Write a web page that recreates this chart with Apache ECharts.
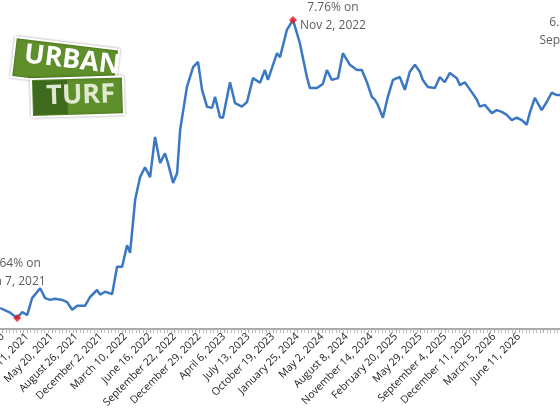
<!DOCTYPE html>
<html><head><meta charset="utf-8">
<script src="https://cdn.jsdelivr.net/npm/echarts@6/dist/echarts.min.js"></script>
<style>html,body{margin:0;padding:0;background:#fff}#c{width:560px;height:420px}</style>
</head><body><div id="c"></div>
<script>
const tickLabels = ["November 5, 2020","February 11, 2021","May 20, 2021","August 26, 2021","December 2, 2021","March 10, 2022","June 16, 2022","September 22, 2022","December 29, 2022","April 6, 2023","July 13, 2023","October 19, 2023","January 25, 2024","May 2, 2024","August 8, 2024","November 14, 2024","February 20, 2025","May 29, 2025","September 4, 2025","December 11, 2025","March 5, 2026","June 11, 2026"];
const weeks = [-15.4,-9.7,-5.7,-2.8,0,2.8,7.4,10.2,13.1,15.9,19.9,22.8,25.6,28.5,33.0,35.8,39.8,41.5,44.4,48.4,51.2,54.1,56.9,58.6,61.5,64.3,67.1,70.0,72.8,75.7,78.5,80.2,83.1,85.4,87.1,91.0,94.5,97.3,99.6,102.4,105.3,107.0,109.8,111.5,115.5,118.4,122.3,125.2,128.6,132.6,135.4,137.1,142.3,144.0,147.9,151.4,155.3,159.3,161.0,165.0,168.4,170.7,173.5,177.0,179.8,183.8,187.8,190.6,193.5,196.3,198.0,199.7,202.6,205.4,208.3,212.2,215.1,217.9,220.8,223.6,225.3,228.2,232.2,235.0,237.8,240.7,244.7,246.4,249.2,253.2,256.1,257.8,260.6,264.6,267.4,270.3,273.1,276.0,278.8,281.7,284.5,286.2,289.1,293.0,295.9,298.7,301.6,304.4];
const rates = [2.81,2.73,2.64,2.74,2.69,2.98,3.15,2.98,2.95,2.97,2.95,2.91,2.78,2.85,2.85,3.00,3.12,3.04,3.09,3.05,3.52,3.52,3.89,3.76,4.67,5.06,5.23,5.06,5.75,5.30,5.47,5.30,4.96,5.13,5.87,6.61,6.95,7.04,6.56,6.27,6.25,6.44,6.09,6.08,6.69,6.33,6.27,6.35,6.76,6.68,6.90,6.73,7.19,7.12,7.59,7.76,7.36,6.78,6.59,6.59,6.66,6.90,6.73,6.76,7.19,6.99,6.90,6.90,6.69,6.44,6.39,6.30,6.08,6.44,6.73,6.78,6.56,6.87,6.99,6.87,6.73,6.61,6.59,6.78,6.69,6.85,6.76,6.64,6.69,6.52,6.39,6.27,6.30,6.16,6.21,6.18,6.13,6.04,6.08,6.04,5.96,6.16,6.42,6.21,6.35,6.51,6.47,6.47];
const noteWeeks = [-5.7, 151.4, 312];
const noteRates = [2.64, 7.76, 6.62];
const noteTexts = ["2.64% on\nJan 7, 2021", "7.76% on\nNov 2, 2022", "6.62% on\nSep 18, 2026"];

const chart = echarts.init(document.getElementById('c'));
const F = "'Open Sans', 'Liberation Sans', sans-serif";
chart.setOption({
  animation:false,
  grid:{left:-22,right:-8,top:6,bottom:91,containLabel:false,outerBoundsMode:'none'},
  xAxis:{type:'value',min:-28,max:308,interval:14,
    axisLine:{lineStyle:{color:'#aaa',width:2}},
    axisTick:{show:true,length:4,lineStyle:{color:'#aaa'}},
    minorTick:{show:true,splitNumber:7,length:4,lineStyle:{color:'#bbb'}},
    splitLine:{show:false},
    axisLabel:{rotate:45,fontSize:10.5,color:'#222',fontFamily:F,margin:6,hideOverlap:false,
      formatter:v=>tickLabels[Math.round(v/14)+1]||''}},
  yAxis:{type:'value',min:2.45,max:8.0,show:false,splitLine:{show:false}},
  series:[
    {type:'line',data:weeks.map((w,i)=>[w,rates[i]]),showSymbol:false,smooth:false,clip:false,
     lineStyle:{color:'#3b78c3',width:2.5},z:2},
    {type:'scatter',data:noteWeeks.map((w,i)=>[w,noteRates[i]]),symbol:'diamond',symbolSize:8,clip:false,
     itemStyle:{color:'#e8141b'},z:3,
     label:{show:true,fontSize:12,color:'#333',fontFamily:F,lineHeight:18,align:'center',
       formatter:p=>noteTexts[p.dataIndex],
       position:'top'},
     labelLayout:p=>{const i=p.dataIndex; if(i===1) return {dx:40,dy:24}; if(i===0) return {dx:-2,dy:-18}; return {dx:0,dy:-28};}}
  ],
  graphic:[
    {type:'group',left:10,top:36,children:[
      {type:'rect',shape:{x:0,y:0,width:104,height:40},rotation:-0.12,originX:0,originY:0,x:2,y:4,
       style:{fill:'#5f8f2a',stroke:'#fff',lineWidth:2,shadowBlur:3,shadowColor:'rgba(0,0,0,0.3)'}},
      {type:'text',x:12,y:8,rotation:-0.12,style:{text:'URBAN',fill:'#fff',font:"bold 27px 'Open Sans', sans-serif"}},
      {type:'rect',shape:{x:0,y:0,width:92,height:38},x:17,y:46,rotation:0.03,
       style:{fill:'#5f8f2a',stroke:'#fff',lineWidth:2,shadowBlur:3,shadowColor:'rgba(0,0,0,0.3)'}},
      {type:'rect',shape:{x:0,y:0,width:34,height:34},x:19,y:48,rotation:0.03,style:{fill:'#3d6a1d'}},
      {type:'text',x:32,y:50,rotation:0.03,style:{text:'TURF',fill:'#dfe8d0',font:"bold 27px 'Open Sans', sans-serif"}}
    ]}
  ]
});
</script></body></html>
